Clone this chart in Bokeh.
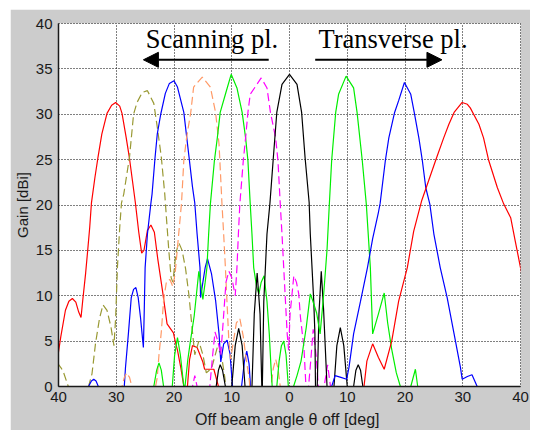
from bokeh.plotting import figure
from bokeh.layouts import column, row
from bokeh.models import Range1d, FixedTicker, CustomJSTickFormatter, Label, Arrow, NormalHead, Spacer
from bokeh.embed import file_html
from bokeh.resources import INLINE

# ---------------- data (off-beam angle in deg, negative = scanning-plane side; gain dBi) -------------
x_ticks = [-40, -30, -20, -10, 0, 10, 20, 30, 40]
y_ticks = [0, 5, 10, 15, 20, 25, 30, 35, 40]

red_scan_x = [-40.5, -40.0, -39.6, -38.8, -38.2, -37.6, -37.0, -36.5, -36.1, -35.8, -35.3, -35.0, -34.6, -34.3,
              -33.7, -33.2, -32.5, -31.6, -30.8, -30.1, -29.4, -29.0, -28.3, -27.7, -27.2, -26.7, -26.1, -25.6,
              -25.2, -24.6, -24.0, -23.4, -22.8, -22.0, -21.2, -20.1, -19.8, -19.4, -18.8, -18.3, -17.8, -17.3,
              -16.8, -16.0, -15.0, -14.7, -13.1, -12.3, -11.8]
red_scan_y = [2.5, 3.8, 5.5, 8.4, 9.4, 9.7, 9.3, 8.2, 7.6, 9.5, 12.5, 14.6, 17.5, 20.2,
              23.0, 25.1, 27.8, 30.1, 31.0, 31.3, 30.9, 30.1, 27.5, 25.1, 22.7, 20.3, 17.0, 14.7,
              15.0, 17.2, 17.8, 17.0, 14.0, 10.6, 6.9, 5.9, 5.0, 4.0, 2.0, 0.0, -1.0, 3.0,
              4.5, 4.3, 2.7, 1.9, 1.9, 0.0, -2.0]

olive_scan_x = [-40.2, -39.5, -39.1, -38.3, -37.0, -34.8, -34.2, -33.6, -32.9, -32.3, -31.6, -30.9, -30.4, -30.1,
                -29.8, -29.4, -29.1, -28.7, -27.7, -27.0, -26.4, -25.5, -24.6, -23.5, -22.9, -22.2, -21.6, -21.3,
                -20.9, -20.5, -20.2, -19.7, -19.2, -18.6, -18.0, -17.4, -16.8, -16.4, -15.7, -15.0, -14.4, -13.5,
                -12.5, -11.8, -11.2, -10.7]
olive_scan_y = [2.6, 2.0, 1.5, 0.0, -3.0, 0.0, 1.4, 4.7, 7.5, 9.0, 8.4, 6.5, 4.5, 7.6,
                13.1, 17.5, 20.2, 21.2, 25.3, 30.0, 31.3, 32.4, 32.6, 31.2, 28.6, 25.3, 21.2, 18.5,
                15.0, 12.0, 11.5, 14.5, 15.9, 15.0, 13.0, 10.0, 6.0, 3.5, 5.0, 3.5, 1.5, 2.0,
                4.3, 3.5, 1.0, -2.0]

blue_scan_x = [-35.3, -34.8, -34.3, -33.9, -33.5, -33.1, -32.5, -29.3, -28.6, -28.4, -27.9, -27.4, -27.0, -26.6,
               -26.2, -25.8, -25.3, -25.15, -25.0, -24.6, -24.0, -23.8, -23.3, -22.9, -22.3, -21.5, -20.8, -20.0,
               -19.4, -18.3, -17.4, -16.8, -16.4, -16.0, -15.5, -15.4, -15.0, -14.6, -14.2, -13.5, -12.8, -12.2,
               -11.9, -11.4, -10.8, -10.3, -9.9, -9.5, -8.7, -8.3, -7.8, -7.4, -7.0, -6.75, -6.3]
blue_scan_y = [-2.0, 0.0, 0.6, 0.8, 0.6, 0.0, -3.0, -3.0, 0.1, 2.1, 5.8, 9.8, 10.7, 10.9,
               9.8, 7.6, 4.3, 8.4, 13.1, 16.8, 20.2, 21.2, 25.1, 27.8, 30.0, 32.3, 33.4, 33.7,
               33.0, 30.2, 25.3, 22.0, 20.2, 16.8, 13.1, 9.8, 11.5, 13.1, 14.1, 12.4, 9.5, 5.8,
               2.7, 4.7, 5.1, 3.6, 0.3, -3.0, -3.0, 0.0, 2.8, 3.9, 2.5, 0.0, -3.0]

orange_scan_x = [-29.6, -29.0, -28.6, -28.2, -27.7, -27.3, -26.5, -23.6, -23.2, -22.9, -22.6, -22.2, -21.8, -21.3,
                 -20.7, -20.2, -19.8, -19.3, -18.7, -18.3, -17.8, -17.1, -16.6, -15.1, -13.7, -12.8, -12.2, -11.7,
                 -11.4, -11.1, -10.8, -10.5, -10.2, -9.7, -9.2, -8.6, -8.0, -7.5, -7.0, -6.5, -3.6, -3.2,
                 -2.8, -2.4, -2.0, -1.6, -1.2]
orange_scan_y = [-2.0, 0.0, 1.0, 1.5, 1.0, 0.0, -3.0, -3.0, 0.0, 1.0, 3.5, 6.0, 9.5, 11.6,
                 11.8, 11.0, 12.5, 16.0, 20.2, 24.9, 27.5, 30.2, 33.0, 34.1, 33.0, 30.2, 26.7, 20.2,
                 16.8, 13.1, 9.0, 5.0, 3.0, 5.0, 7.0, 7.5, 5.5, 3.0, 1.0, -3.0, -3.0, 0.0,
                 2.0, 3.0, 2.0, 0.0, -3.0]

green_scan_x = [-24.0, -23.5, -23.0, -22.6, -22.2, -21.8, -21.0, -20.3, -19.9, -19.4, -18.9, -18.3, -18.1, -17.6,
                -17.2, -16.5, -15.7, -15.3, -15.0, -14.6, -14.3, -14.0, -13.7, -13.0, -12.5, -12.0, -11.1, -10.1,
                -9.1, -8.2, -7.6, -7.2, -6.8, -6.5, -6.2, -5.7, -5.3, -4.9, -4.4, -3.9, -3.5, -3.2,
                -3.0, -2.6, -2.2, -1.8, -1.4, -1.0, -0.6, -0.2, 0.2]
green_scan_y = [-3.0, 0.0, 1.8, 2.6, 1.8, 0.0, -3.0, 0.0, 3.4, 5.4, 3.5, 0.0, 0.0, 3.0,
                4.8, 7.8, 12.7, 11.0, 9.6, 11.5, 13.1, 16.8, 20.1, 24.9, 27.4, 30.2, 32.2, 34.4,
                32.9, 30.2, 27.4, 24.9, 20.1, 16.8, 13.1, 11.0, 10.2, 11.5, 12.2, 9.4, 5.8, 2.1,
                0.0, -3.0, 0.0, 2.8, 4.5, 5.0, 3.5, 0.0, -3.0]

magenta_scan_x = [-17.2, -16.8, -16.4, -16.0, -15.6, -14.5, -13.8, -13.3, -12.9, -12.4, -11.9, -11.5, -11.0, -10.5,
                  -10.0, -9.4, -9.1, -8.85, -8.6, -8.0, -7.6, -7.2, -6.8, -4.9, -3.9, -3.3, -2.4, -2.0,
                  -1.6, -1.3, -1.0, -0.7, -0.4, -0.15, 0.1, 0.75, 1.2, 1.6, 1.9, 2.5, 2.85, 3.1,
                  3.3, 3.7, 4.1, 4.6, 5.0, 5.3, 6.0, 6.6, 7.1, 7.5]
magenta_scan_y = [-2.0, 0.0, 1.2, 0.0, -3.0, -3.0, 0.0, 3.5, 6.0, 5.0, 3.5, 7.0, 11.5, 12.7,
                  12.0, 10.0, 13.1, 16.8, 20.1, 24.9, 27.4, 30.2, 32.2, 34.0, 32.9, 30.2, 27.4, 24.9,
                  20.1, 16.8, 13.1, 9.4, 5.8, 4.0, 8.0, 12.2, 11.5, 10.2, 7.6, 4.3, 0.0, -3.0,
                  0.0, 3.0, 6.3, 3.5, 0.0, -3.0, 0.0, 2.4, 0.0, -3.0]

black_x = [-13.2, -12.7, -12.3, -12.0, -11.6, -11.1, -10.6, -10.0, -9.4, -8.8, -8.2, -7.7, -7.2, -6.5,
           -6.1, -5.6, -5.1, -4.8, -4.7, -4.55, -4.45, -3.9, -3.4, -2.8, -2.2, -1.3, 0.0, 1.3,
           2.1, 2.7, 3.4, 3.6, 3.9, 4.2, 4.4, 4.5, 4.8, 5.1, 5.5, 5.9, 6.5, 7.0,
           7.7, 8.2, 8.8, 9.4, 10.0, 10.5, 11.1, 11.5, 11.9, 12.3, 12.7, 13.2]
black_y = [-2.0, 0.0, 1.8, 2.4, 1.8, 0.0, -2.0, 0.0, 4.5, 6.4, 4.5, 0.0, -2.0, 0.0,
           8.0, 12.5, 8.0, 0.0, 0.0, 5.8, 9.4, 16.8, 20.1, 25.2, 30.2, 33.3, 34.4, 33.3,
           30.2, 25.2, 20.3, 16.8, 13.1, 9.4, 5.8, 0.0, 0.0, 8.0, 12.7, 8.5, 0.0, -2.0,
           0.0, 4.5, 6.5, 4.5, 0.0, -2.0, 0.0, 1.8, 2.4, 1.8, 0.0, -2.0]

green_trans_x = [0.2, 0.7, 1.3, 2.0, 2.9, 3.6, 4.0, 4.7, 5.3, 5.9, 6.5, 6.9, 7.3, 8.0,
                 8.5, 9.8, 11.1, 11.7, 12.6, 13.3, 14.0, 14.4, 15.4, 16.4, 17.0, 17.7, 18.5, 19.2,
                 19.8, 20.4, 21.0, 21.8, 22.2, 22.7]
green_trans_y = [-3.0, 0.0, 1.2, 2.8, 6.5, 10.2, 9.5, 8.1, 5.8, 10.0, 15.1, 20.1, 24.9, 30.2,
                 32.2, 34.2, 32.9, 30.2, 24.9, 20.1, 13.1, 5.8, 8.0, 10.3, 7.0, 4.1, 1.5, 0.0,
                 -3.0, -3.0, 0.0, 1.9, 0.0, -3.0]

blue_trans_x = [6.8, 7.3, 7.9, 8.9, 9.9, 10.3, 11.1, 12.3, 13.5, 14.4, 15.4, 15.7, 16.6, 17.2,
                18.2, 18.9, 19.9, 21.0, 21.6, 22.4, 23.0, 23.6, 24.3, 25.0, 26.1, 27.3, 28.5, 29.6,
                29.9, 30.8, 31.6, 32.5, 33.0]
blue_trans_y = [-3.0, 0.0, 1.2, 1.0, 0.8, 2.1, 5.8, 9.4, 13.1, 16.3, 19.2, 20.2, 24.9, 27.4,
                30.2, 31.5, 33.5, 32.2, 30.2, 27.4, 24.9, 21.9, 20.1, 16.8, 13.1, 9.8, 5.8, 2.1,
                0.8, 1.1, 1.3, 0.0, -3.0]

red_trans_x = [12.4, 12.9, 13.4, 14.4, 15.4, 16.4, 17.7, 18.9, 20.4, 21.5, 22.9, 24.1, 25.3, 26.7,
               27.6, 28.5, 29.9, 30.8, 31.3, 32.8, 33.6, 34.5, 36.0, 37.1, 38.3, 39.1, 40.0, 40.5]
red_trans_y = [-3.0, 0.0, 2.8, 4.7, 3.2, 1.9, 5.0, 9.4, 13.1, 17.1, 20.5, 22.7, 24.9, 27.4,
               28.9, 30.2, 31.3, 31.1, 30.7, 28.9, 27.4, 24.9, 21.9, 20.1, 18.6, 16.0, 13.1, 11.5]

# ---------------- figure -------------
p = figure(width=520, height=421, output_backend="svg", toolbar_location=None,
           x_range=Range1d(-40, 40), y_range=Range1d(0, 40),
           min_border_left=48, min_border_right=10, min_border_top=14, min_border_bottom=44)
p.border_fill_color = "#cccccc"
p.background_fill_color = "white"
p.outline_line_color = "black"
p.outline_line_dash = "1 2"
p.outline_line_width = 1

p.xaxis.ticker = FixedTicker(ticks=x_ticks)
p.yaxis.ticker = FixedTicker(ticks=y_ticks)
p.xgrid.ticker = FixedTicker(ticks=x_ticks)
p.ygrid.ticker = FixedTicker(ticks=y_ticks)
p.xaxis.formatter = CustomJSTickFormatter(code="return Math.abs(tick).toFixed(0)")
for ax in (p.xaxis, p.yaxis):
    ax.major_tick_line_color = None
    ax.minor_tick_line_color = None
    ax.major_tick_out = 0
    ax.major_tick_in = 0
    ax.minor_tick_out = 0
    ax.minor_tick_in = 0
    ax.axis_line_color = "#1a1a1a"
    ax.axis_line_width = 1.5
    ax.major_label_text_font = "Liberation Sans"
    ax.major_label_text_font_size = "15px"
    ax.major_label_text_color = "#1a1a1a"
    ax.axis_label_text_font = "Liberation Sans"
    ax.axis_label_text_font_size = "15px"
    ax.axis_label_text_font_style = "normal"
    ax.axis_label_text_color = "#1a1a1a"
p.yaxis.major_label_standoff = 6
p.yaxis.axis_label = "Gain [dBi]"
p.yaxis.axis_label_standoff = 2
p.xaxis.major_label_standoff = 5
p.xaxis.axis_label = "Off  beam angle θ off [deg]"
p.xaxis.axis_label_text_font_size = "16px"
p.xaxis.axis_label_standoff = 6
p.grid.grid_line_color = "black"
p.grid.grid_line_dash = "1 2"
p.grid.grid_line_width = 1

solid = dict(line_width=1.2)
dashed = dict(line_width=1.2, line_dash="8 4")
p.line(red_scan_x, red_scan_y, line_color="#ff0000", **solid)
p.line(olive_scan_x, olive_scan_y, line_color="#999933", **dashed)
p.line(blue_scan_x, blue_scan_y, line_color="#0000ff", **solid)
p.line(orange_scan_x, orange_scan_y, line_color="#ff9966", **dashed)
p.line(green_scan_x, green_scan_y, line_color="#00ee00", **solid)
p.line(magenta_scan_x, magenta_scan_y, line_color="#ff00ff", **dashed)
p.line(black_x, black_y, line_color="#000000", **solid)
p.line(green_trans_x, green_trans_y, line_color="#00ee00", **solid)
p.line(blue_trans_x, blue_trans_y, line_color="#0000ff", **solid)
p.line(red_trans_x, red_trans_y, line_color="#ff0000", **solid)

# ---------------- annotations -------------
p.add_layout(Label(x=-24.9, y=38.25, text="Scanning pl.", text_font="Liberation Serif",
                   text_font_size="26.5px", text_baseline="alphabetic", text_align="left",
                   text_color="black"))
p.add_layout(Label(x=5.0, y=38.25, text="Transverse pl.", text_font="Liberation Serif",
                   text_font_size="26.5px", text_baseline="alphabetic", text_align="left",
                   text_color="black"))
p.add_layout(Arrow(end=NormalHead(size=15, fill_color="black", line_color="black"),
                   x_start=-3.6, y_start=36.0, x_end=-25.3, y_end=36.0,
                   line_width=2, line_color="black"))
p.add_layout(Arrow(end=NormalHead(size=15, fill_color="black", line_color="black"),
                   x_start=4.45, y_start=36.0, x_end=26.4, y_end=36.0,
                   line_width=2, line_color="black"))

layout = column(Spacer(width=530, height=9), row(Spacer(width=10, height=421), p))

open("out.html", "w").write(file_html(layout, INLINE))
